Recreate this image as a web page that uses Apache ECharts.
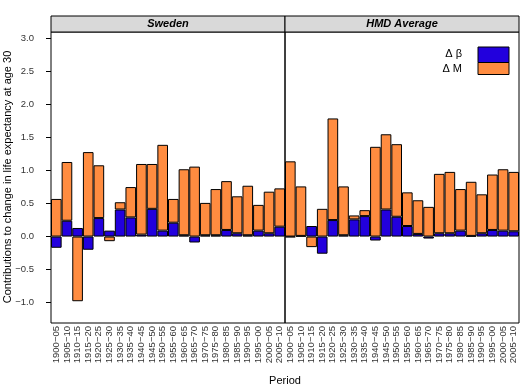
<!DOCTYPE html>
<html>
<head>
<meta charset="utf-8">
<script src="https://cdn.jsdelivr.net/npm/echarts@6/dist/echarts.min.js"></script>
<style>
  html, body { margin: 0; padding: 0; background: #fff; }
  #main { width: 524px; height: 388px; }
</style>
</head>
<body>
<div id="main"></div>
<script>
// periods (x categories)
var periods = ['1900−05', '1905−10', '1910−15', '1915−20', '1920−25', '1925−30',
    '1930−35', '1935−40', '1940−45', '1945−50', '1950−55', '1955−60', '1960−65',
    '1965−70', '1970−75', '1975−80', '1980−85', '1985−90', '1990−95', '1995−00',
    '2000−05', '2005−10'];

// Sweden
var swedenBeta = [-0.17, 0.24, 0.13, -0.20, 0.28, 0.09, 0.41, 0.29, 0.03, 0.42, 0.09,
    0.21, 0.02, -0.09, 0.02, 0.02, 0.10, 0.05, 0.02, 0.09, 0.05, 0.15];
var swedenM = [0.57, 0.89, -0.98, 1.28, 0.80, -0.07, 0.11, 0.46, 1.07, 0.68, 1.30,
    0.36, 1.00, 1.06, 0.49, 0.70, 0.74, 0.56, 0.75, 0.39, 0.63, 0.58];

// HMD average
var hmdBeta = [-0.01, 0.01, 0.16, -0.26, 0.25, 0.02, 0.26, 0.31, -0.06, 0.41, 0.30,
    0.16, 0.04, -0.03, 0.05, 0.05, 0.09, 0.01, 0.05, 0.10, 0.09, 0.08];
var hmdM = [1.14, 0.75, -0.16, 0.42, 1.54, 0.74, 0.06, 0.09, 1.36, 1.14, 1.10,
    0.51, 0.51, 0.45, 0.90, 0.93, 0.63, 0.82, 0.59, 0.84, 0.93, 0.90];

var yTicks = [-1, -0.5, 0, 0.5, 1, 1.5, 2, 2.5, 3];

var colBeta = '#2200dd';
var colM = '#ff8c40';
var font = 'Liberation Sans, Arial, sans-serif';

var myChart = echarts.init(document.getElementById('main'));

function barSeries(name, data, idx, stack, color) {
    return {
        name: name,
        type: 'bar',
        stack: stack,
        xAxisIndex: idx,
        yAxisIndex: idx,
        barCategoryGap: '0%',
        data: data,
        itemStyle: { color: color, borderColor: '#000', borderWidth: 1 },
        silent: true
    };
}

function xAx(idx) {
    return {
        type: 'category',
        gridIndex: idx,
        data: periods,
        axisLine: { show: false },
        axisTick: { show: false },
        axisLabel: {
            rotate: 90, interval: 0, margin: 3,
            fontSize: 9.5, color: '#333', fontFamily: font
        }
    };
}

function yAx(idx) {
    return {
        type: 'value',
        gridIndex: idx,
        min: -1.31,
        max: 3.1,
        splitLine: { show: false },
        axisLine: { show: false },
        axisTick: {
            show: idx == 0, length: 5, customValues: yTicks,
            lineStyle: { color: '#000' }
        },
        axisLabel: {
            show: idx == 0, margin: 17, customValues: yTicks,
            fontSize: 9.5, color: '#333', fontFamily: font,
            formatter: function (v) { return v.toFixed(1).replace('-', '−'); }
        }
    };
}

myChart.setOption({
    animation: false,
    grid: [
        { left: 51, top: 32, width: 234, bottom: 65, show: true, borderColor: '#000', borderWidth: 1 },
        { left: 285, top: 32, width: 234, bottom: 65, show: true, borderColor: '#000', borderWidth: 1 }
    ],
    xAxis: [xAx(0), xAx(1)],
    yAxis: [yAx(0), yAx(1)],
    series: [
        barSeries('Δ β', swedenBeta, 0, 'sweden', colBeta),
        barSeries('Δ M', swedenM, 0, 'sweden', colM),
        barSeries('Δ β', hmdBeta, 1, 'hmd', colBeta),
        barSeries('Δ M', hmdM, 1, 'hmd', colM)
    ],
    graphic: [
        // strips
        { type: 'rect', shape: { x: 51, y: 16, width: 234, height: 16 },
          style: { fill: '#d9d9d9', stroke: '#000', lineWidth: 1 } },
        { type: 'rect', shape: { x: 285, y: 16, width: 234, height: 16 },
          style: { fill: '#d9d9d9', stroke: '#000', lineWidth: 1 } },
        { type: 'text', x: 168, y: 24,
          style: { text: 'Sweden', font: 'italic bold 11px ' + font, fill: '#000',
                   align: 'center', verticalAlign: 'middle' } },
        { type: 'text', x: 402, y: 24,
          style: { text: 'HMD Average', font: 'italic bold 11px ' + font, fill: '#000',
                   align: 'center', verticalAlign: 'middle' } },
        // legend
        { type: 'rect', shape: { x: 478, y: 47, width: 31, height: 15.5 },
          style: { fill: colBeta, stroke: '#000', lineWidth: 1 } },
        { type: 'rect', shape: { x: 478, y: 62.5, width: 31, height: 12 },
          style: { fill: colM, stroke: '#000', lineWidth: 1 } },
        { type: 'text', x: 462, y: 54,
          style: { text: 'Δ β', font: '11px ' + font, fill: '#000',
                   align: 'right', verticalAlign: 'middle' } },
        { type: 'text', x: 462, y: 69,
          style: { text: 'Δ M', font: '11px ' + font, fill: '#000',
                   align: 'right', verticalAlign: 'middle' } },
        // axis titles
        { type: 'text', x: 285, y: 381,
          style: { text: 'Period', font: '11px ' + font, fill: '#000',
                   align: 'center', verticalAlign: 'middle' } },
        { type: 'text', x: 8, y: 177, rotation: Math.PI / 2,
          style: { text: 'Contributions to change in life expectancy at age 30',
                   font: '11px ' + font, fill: '#000',
                   align: 'center', verticalAlign: 'middle' } }
    ]
});
</script>
</body>
</html>
